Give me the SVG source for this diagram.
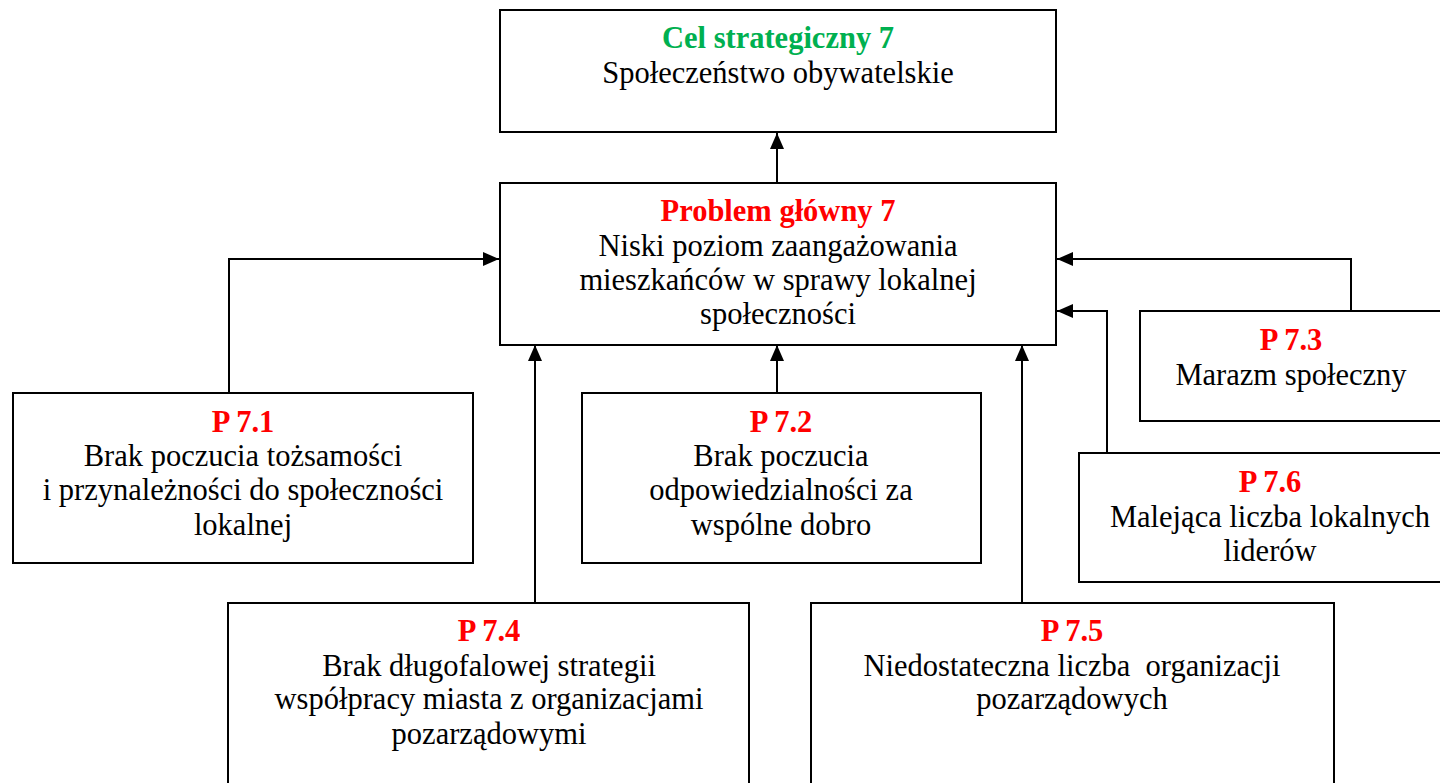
<svg xmlns="http://www.w3.org/2000/svg" width="1440" height="783" viewBox="0 0 1440 783">
<style>
.box{fill:#fff;stroke:#000;stroke-width:2}
.t{font-family:"Liberation Serif","Times New Roman",serif;font-size:30.5px;text-anchor:middle;fill:#000}
.h{font-weight:bold;fill:#ff0000}
.g{font-weight:bold;fill:#00b050}
.c{fill:none;stroke:#000;stroke-width:2}
</style>
<defs>
<marker id="ah" markerUnits="userSpaceOnUse" markerWidth="16" markerHeight="14" refX="16" refY="7" orient="auto">
<path d="M0,0 L16,7 L0,14 Z" fill="#000"/>
</marker>
</defs>
<rect width="1440" height="783" fill="#fff"/>
<g id="connectors">
<path class="c" d="M777,183 V133" marker-end="url(#ah)"/>
<path class="c" d="M229,393 V259 H499" marker-end="url(#ah)"/>
<path class="c" d="M777,393 V345" marker-end="url(#ah)"/>
<path class="c" d="M1351,311 V259 H1057" marker-end="url(#ah)"/>
<path class="c" d="M1107,453 V311 H1057" marker-end="url(#ah)"/>
<path class="c" d="M535,603 V345" marker-end="url(#ah)"/>
<path class="c" d="M1022,603 V345" marker-end="url(#ah)"/>
</g>
<g id="cel">
<rect class="box" x="500" y="10" width="556" height="122"/>
<text class="t g" x="778" y="48">Cel strategiczny 7</text>
<text class="t" x="778" y="83">Społeczeństwo obywatelskie</text>
</g>
<g id="problem">
<rect class="box" x="500" y="183" width="556" height="162"/>
<text class="t h" x="778" y="221">Problem główny 7</text>
<text class="t" x="778" y="256">Niski poziom zaangażowania</text>
<text class="t" x="778" y="290">mieszkańców w sprawy lokalnej</text>
<text class="t" x="778" y="324">społeczności</text>
</g>
<g id="p71">
<rect class="box" x="13" y="393" width="460" height="170"/>
<text class="t h" x="243" y="432">P 7.1</text>
<text class="t" x="243" y="466">Brak poczucia tożsamości</text>
<text class="t" x="243" y="500">i przynależności do społeczności</text>
<text class="t" x="243" y="535">lokalnej</text>
</g>
<g id="p72">
<rect class="box" x="582" y="393" width="399" height="170"/>
<text class="t h" x="781" y="432">P 7.2</text>
<text class="t" x="781" y="466">Brak poczucia</text>
<text class="t" x="781" y="500">odpowiedzialności za</text>
<text class="t" x="781" y="535">wspólne dobro</text>
</g>
<g id="p73">
<rect class="box" x="1140" y="311" width="304" height="110"/>
<text class="t h" x="1291" y="350">P 7.3</text>
<text class="t" x="1291" y="385">Marazm społeczny</text>
</g>
<g id="p76">
<rect class="box" x="1079" y="453" width="384" height="129"/>
<text class="t h" x="1270" y="492">P 7.6</text>
<text class="t" x="1270" y="527">Malejąca liczba lokalnych</text>
<text class="t" x="1270" y="561">liderów</text>
</g>
<g id="p74">
<rect class="box" x="228" y="603" width="521" height="200"/>
<text class="t h" x="489" y="641">P 7.4</text>
<text class="t" x="489" y="676">Brak długofalowej strategii</text>
<text class="t" x="489" y="709">współpracy miasta z organizacjami</text>
<text class="t" x="489" y="744">pozarządowymi</text>
</g>
<g id="p75">
<rect class="box" x="811" y="603" width="523" height="200"/>
<text class="t h" x="1072" y="641">P 7.5</text>
<text class="t" x="1072" y="676" xml:space="preserve">Niedostateczna liczba  organizacji</text>
<text class="t" x="1072" y="709">pozarządowych</text>
</g>
</svg>
